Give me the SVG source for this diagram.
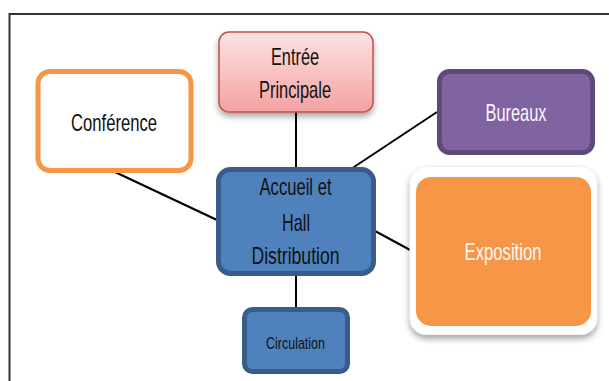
<svg xmlns="http://www.w3.org/2000/svg" width="609" height="381" viewBox="0 0 609 381">
<defs>
<linearGradient id="pink" x1="0" y1="0" x2="0" y2="1">
<stop offset="0" stop-color="#fde2e2"/>
<stop offset="1" stop-color="#f4a2a2"/>
</linearGradient>
<filter id="sh" x="-20%" y="-20%" width="140%" height="150%">
<feGaussianBlur in="SourceAlpha" stdDeviation="3"/>
<feOffset dy="4"/>
<feComponentTransfer><feFuncA type="linear" slope="0.35"/></feComponentTransfer>
<feMerge><feMergeNode/><feMergeNode in="SourceGraphic"/></feMerge>
</filter>
<style>
text{font-family:"Liberation Sans",Arial,sans-serif;text-anchor:middle;}
.big{font-size:24px;fill:#111;}
.w{fill:#fbf6fb;}
.link{stroke:#000;stroke-width:2;fill:none;}
.blue{fill:#4f81bd;stroke:#385d8a;stroke-width:5;}
</style>
</defs>
<rect x="0" y="0" width="609" height="381" fill="#fff"/>
<path d="M9.5 381 V14 H609" fill="none" stroke="#333" stroke-width="2"/>
<g id="connectors">
<line class="link" x1="296" y1="112" x2="296" y2="169" stroke-width="1.5"/>
<line class="link" x1="115" y1="172" x2="217" y2="220"/>
<line class="link" x1="437" y1="112" x2="348" y2="171"/>
<line class="link" x1="375" y1="231" x2="412" y2="251"/>
<line class="link" x1="296" y1="274" x2="296" y2="308" stroke-width="1.5"/>
</g>
<g id="entree">
<rect x="219" y="32" width="154" height="80" rx="10" fill="url(#pink)" stroke="#c0504d" stroke-width="1.5" filter="url(#sh)"/>
<text class="big" x="295" y="65" textLength="48" lengthAdjust="spacingAndGlyphs">Entrée</text>
<text class="big" x="295" y="97.5" textLength="72" lengthAdjust="spacingAndGlyphs">Principale</text>
</g>
<g id="conference">
<rect x="38" y="71.5" width="153" height="99" rx="12" fill="#fff" stroke="#f79646" stroke-width="5"/>
<text class="big" x="114" y="131" textLength="86" lengthAdjust="spacingAndGlyphs">Conférence</text>
</g>
<g id="bureaux">
<rect x="439.5" y="71.5" width="153" height="81" rx="10" fill="#8064a2" stroke="#5f497a" stroke-width="5"/>
<text class="big w" x="516" y="120.5" textLength="61" lengthAdjust="spacingAndGlyphs">Bureaux</text>
</g>
<g id="exposition">
<rect x="410" y="166.5" width="187" height="168" rx="16" fill="#fff" stroke="#f2f2f2" stroke-width="1" filter="url(#sh)"/>
<rect x="416" y="177" width="175" height="149" rx="15" fill="#f79646"/>
<text class="big w" x="503" y="260" textLength="77" lengthAdjust="spacingAndGlyphs">Exposition</text>
</g>
<g id="accueil">
<rect class="blue" x="218.5" y="169.5" width="155" height="104" rx="12"/>
<text class="big" x="295.5" y="195" textLength="72" lengthAdjust="spacingAndGlyphs">Accueil et</text>
<text class="big" x="296" y="230.5" textLength="28" lengthAdjust="spacingAndGlyphs">Hall</text>
<text class="big" x="295.5" y="263.5" textLength="88" lengthAdjust="spacingAndGlyphs">Distribution</text>
</g>
<g id="circulation">
<rect class="blue" x="244.5" y="309.5" width="103" height="62" rx="8"/>
<text x="295.5" y="349" font-size="17" fill="#111" textLength="59" lengthAdjust="spacingAndGlyphs">Circulation</text>
</g>
</svg>
